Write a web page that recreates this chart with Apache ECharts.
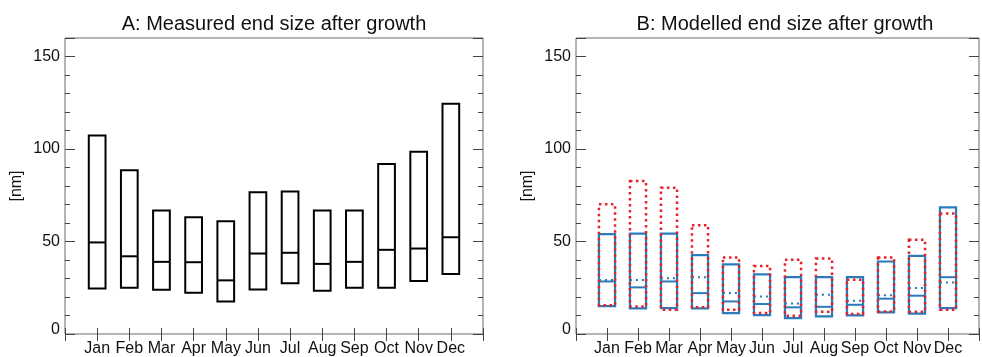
<!DOCTYPE html>
<html>
<head>
<meta charset="utf-8">
<script src="https://cdn.jsdelivr.net/npm/echarts@6/dist/echarts.min.js"></script>
<style>
html,body{margin:0;padding:0;background:#fff;}
#chart{width:982px;height:357px;}
</style>
</head>
<body>
<div id="chart"></div>
<script>
// ---- data ----
const months = ['Jan','Feb','Mar','Apr','May','Jun','Jul','Aug','Sep','Oct','Nov','Dec'];
const yTicks = [0, 50, 100, 150];
// Panel A: measured
const aLow  = [24.6, 25.0, 23.9, 22.3, 17.6, 24.1, 27.5, 23.4, 25.0, 25.0, 28.6, 32.5];
const aMed  = [49.5, 42.0, 39.0, 38.8, 29.0, 43.5, 43.9, 37.9, 39.0, 45.5, 46.2, 52.3];
const aHigh = [107.3, 88.5, 66.7, 63.1, 61.0, 76.6, 77.0, 66.7, 66.7, 91.9, 98.5, 124.4];
// Panel B: modelled (blue solid boxes)
const blueLow  = [15.1, 13.8, 14.0, 13.9, 11.3, 10.2, 8.6, 9.5, 10.1, 11.7, 11.0, 14.0];
const blueMed  = [28.4, 25.2, 28.4, 22.1, 17.6, 16.2, 14.4, 14.7, 15.8, 19.1, 20.7, 30.7];
const blueDot  = [29.2, 29.2, 30.2, 30.7, 22.1, 20.3, 16.5, 21.2, 18.0, 21.0, 24.8, 27.9];
const blueHigh = [54.0, 54.3, 54.3, 42.6, 37.6, 32.2, 30.7, 30.7, 30.7, 39.2, 42.2, 68.5];
// Panel B: modelled (red dotted boxes)
const redLow  = [15.6, 14.8, 13.1, 14.4, 13.1, 11.3, 9.9, 12.0, 10.8, 12.2, 12.0, 13.1];
const redHigh = [70.1, 82.7, 79.1, 58.8, 41.4, 36.8, 40.1, 40.8, 29.3, 41.4, 50.9, 65.1];

// ---- styling ----
const FONT = 'Liberation Sans, Arial, Helvetica, sans-serif';
const FRAME = '#6a6a6a';
const TICK = '#444';
const BLUE = '#2b7bba';
const RED = '#e3222b';
const HALF = 0.26;

const chart = echarts.init(document.getElementById('chart'), null, {renderer: 'canvas'});

function grids() {
  return [
    {left: 65, top: 38, width: 418, height: 297, show: true, borderColor: FRAME, borderWidth: 1, backgroundColor: 'transparent'},
    {left: 576, top: 38, width: 417.3, height: 297, show: true, borderColor: FRAME, borderWidth: 1, backgroundColor: 'transparent'}
  ];
}

function xAxes(gi) {
  return [
    {
      type: 'value', gridIndex: gi, position: 'bottom', min: 0, max: 13, interval: 1,
      axisLine: {show: false}, splitLine: {show: false},
      axisTick: {show: true, inside: true, length: 6, lineStyle: {color: TICK, width: 1}},
      axisLabel: {
        show: true, margin: 7, color: '#111', fontSize: 16, fontFamily: FONT,
        formatter: v => (v >= 1 && v <= 12) ? months[v - 1] : ''
      }
    },
    {
      type: 'value', gridIndex: gi, position: 'top', min: 0, max: 13, interval: 1,
      axisLine: {show: false}, splitLine: {show: false},
      axisTick: {show: true, inside: true, length: 7, lineStyle: {color: TICK, width: 1}},
      axisLabel: {show: false}
    }
  ];
}

function yAxes(gi) {
  const base = {type: 'value', gridIndex: gi, min: 0, max: 160, axisLine: {show: false}, splitLine: {show: false}};
  return [
    Object.assign({}, base, {
      position: 'left', interval: 10,
      name: '[nm]', nameLocation: 'middle', nameGap: 40, nameRotate: 90,
      nameTextStyle: {color: '#111', fontSize: 16, fontFamily: FONT},
      axisTick: {show: true, inside: true, length: 5, lineStyle: {color: TICK}},
      axisLabel: {
        show: true, margin: 5, color: '#111', fontSize: 16, fontFamily: FONT,
        formatter: v => yTicks.indexOf(v) >= 0 ? (v === 0 ? '{z|0}' : String(v)) : '',
        rich: {z: {fontSize: 16, fontFamily: FONT, color: '#111', padding: [0, 0, 9, 0]}}
      }
    }),
    Object.assign({}, base, {
      position: 'left', interval: 50,
      axisTick: {show: true, inside: true, length: 10, lineStyle: {color: TICK}},
      axisLabel: {show: false}
    }),
    Object.assign({}, base, {
      position: 'right', interval: 10,
      axisTick: {show: true, inside: true, length: 5, lineStyle: {color: TICK}},
      axisLabel: {show: false}
    }),
    Object.assign({}, base, {
      position: 'right', interval: 50,
      axisTick: {show: true, inside: true, length: 10, lineStyle: {color: TICK}},
      axisLabel: {show: false}
    })
  ];
}

function boxPath(api, x, lo, hi) {
  const p1 = api.coord([x - HALF, hi]);
  const p2 = api.coord([x + HALF, lo]);
  return {x: p1[0], y: p1[1], width: p2[0] - p1[0], height: p2[1] - p1[1]};
}
function hLine(api, x, v) {
  const a = api.coord([x - HALF, v]);
  const b = api.coord([x + HALF, v]);
  return {x1: a[0], y1: a[1], x2: b[0], y2: b[1]};
}

const dataA = months.map((m, i) => [i + 1, aLow[i], aMed[i], aHigh[i]]);
const dataBlue = months.map((m, i) => [i + 1, blueLow[i], blueMed[i], blueDot[i], blueHigh[i]]);
const dataRed = months.map((m, i) => [i + 1, redLow[i], redHigh[i]]);

const xA = xAxes(0), xB = xAxes(1);
const yA = yAxes(0), yB = yAxes(1);

const option = {
  animation: false,
  backgroundColor: '#fff',
  title: [
    {text: 'A: Measured end size after growth', left: 274, top: 14, textAlign: 'center', padding: 0,
     textStyle: {fontSize: 20, fontWeight: 'normal', color: '#111', fontFamily: FONT, lineHeight: 20}},
    {text: 'B: Modelled end size after growth', left: 785, top: 14, textAlign: 'center', padding: 0,
     textStyle: {fontSize: 20, fontWeight: 'normal', color: '#111', fontFamily: FONT, lineHeight: 20}}
  ],
  grid: grids(),
  xAxis: xA.concat(xB),
  yAxis: yA.concat(yB),
  series: [
    {
      type: 'custom', xAxisIndex: 0, yAxisIndex: 0, data: dataA, silent: true,
      renderItem: (params, api) => {
        const x = api.value(0), lo = api.value(1), md = api.value(2), hi = api.value(3);
        return {type: 'group', children: [
          {type: 'rect', shape: boxPath(api, x, lo, hi), style: {fill: 'none', stroke: '#000', lineWidth: 2}},
          {type: 'line', shape: hLine(api, x, md), style: {stroke: '#000', lineWidth: 2}}
        ]};
      }
    },
    {
      type: 'custom', xAxisIndex: 2, yAxisIndex: 4, data: dataBlue, silent: true,
      renderItem: (params, api) => {
        const x = api.value(0), lo = api.value(1), md = api.value(2), dt = api.value(3), hi = api.value(4);
        return {type: 'group', children: [
          {type: 'rect', shape: boxPath(api, x, lo, hi), style: {fill: 'none', stroke: BLUE, lineWidth: 2.2}},
          {type: 'line', shape: hLine(api, x, md), style: {stroke: BLUE, lineWidth: 2}},
          {type: 'line', shape: hLine(api, x, dt), style: {stroke: BLUE, lineWidth: 2, lineDash: [2, 4]}}
        ]};
      }
    },
    {
      type: 'custom', xAxisIndex: 2, yAxisIndex: 4, data: dataRed, silent: true,
      renderItem: (params, api) => {
        const x = api.value(0), lo = api.value(1), hi = api.value(2);
        return {type: 'rect', shape: boxPath(api, x, lo, hi),
          style: {fill: 'none', stroke: RED, lineWidth: 2.5, lineDash: [2.5, 3.5]}};
      }
    }
  ]
};
chart.setOption(option);
</script>
</body>
</html>
